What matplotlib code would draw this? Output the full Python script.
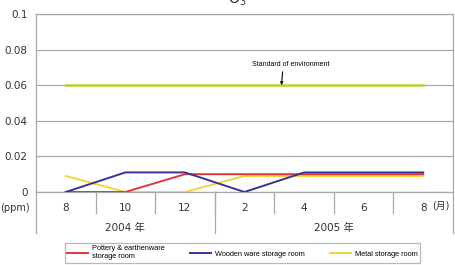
import numpy as np
import matplotlib
matplotlib.use("Agg")
import matplotlib.pyplot as plt

# データ
months = ["8", "10", "12", "2", "4", "6", "8"]
years = ["2004 年", "2005 年"]
pottery = [0, 0, 0.010, 0.010, 0.010, 0.010, 0.010]
wooden = [0, 0.011, 0.011, 0, 0.011, 0.011, 0.011]
metal = [0.009, 0, 0, 0.009, 0.009, 0.009, 0.009]
standard = [0.06, 0.06, 0.06, 0.06, 0.06, 0.06, 0.06]
yticks = [0, 0.02, 0.04, 0.06, 0.08, 0.1]
ytick_labels = ["0", "0.02", "0.04", "0.06", "0.08", "0.1"]

plt.rcParams['font.family'] = ['DejaVu Sans', 'Noto Sans CJK KR']
W, H = 455, 265
fig = plt.figure(figsize=(W/100, H/100), dpi=100)

def fx(px):
    return px/W
def fy(py):
    return 1-py/H

ax = fig.add_axes([fx(36), fy(192), fx(453)-fx(36), fy(14)-fy(192)])
x = np.arange(len(months))
grey = "#a8a8a8"

ax.plot(x, standard, color="#b8d12e", lw=1.8, zorder=3)
l1, = ax.plot(x, pottery, color="#e0383a", lw=1.4, label="Pottery & earthenware\nstorage room", zorder=4)
l2, = ax.plot(x, wooden, color="#3b3391", lw=1.4, label="Wooden ware storage room", zorder=5)
l3, = ax.plot(x, metal, color="#f2d53c", lw=1.4, label="Metal storage room", zorder=3)

ax.set_xlim(-0.5, len(months)-0.5)
ax.set_ylim(0, 0.1)
ax.set_yticks(yticks)
ax.set_yticklabels(ytick_labels, fontsize=7.5, color="#333333")
ax.yaxis.grid(True, color=grey, lw=0.9)
ax.tick_params(axis="y", length=0, pad=6)
ax.set_xticks([])
for s in ax.spines.values():
    s.set_color(grey)
    s.set_linewidth(0.9)

# 環境基準
ax.text(3.78, 0.0695, "Standard of environment", ha="center", va="bottom",
        fontsize=5, family="Liberation Sans")
ax.annotate("", xy=(3.62, 0.06), xytext=(3.64, 0.0675),
            arrowprops=dict(arrowstyle="-|>", color="black", lw=0.8,
                            mutation_scale=4, shrinkA=0, shrinkB=0))

# 下の表部分
trans = ax.get_xaxis_transform()
for i in range(1, len(months)):
    ax.plot([i-0.5, i-0.5], [0, -21/178], color=grey, lw=0.9, transform=trans, clip_on=False)
for b in [-0.5, 2.5, 6.5]:
    ax.plot([b, b], [0, -41/178], color=grey, lw=0.9, transform=trans, clip_on=False)
for i, m in enumerate(months):
    ax.text(i, -16/178, m, ha="center", va="center", fontsize=7.5, color="#333333", transform=trans)
ax.text(1, -36/178, years[0], ha="center", va="center", fontsize=7.5, color="#333333", transform=trans)
ax.text(4.5, -36/178, years[1], ha="center", va="center", fontsize=7.5, color="#333333", transform=trans)
fig.text(fx(15), fy(208), "(ppm)", ha="center", va="center", fontsize=7, color="#333333")
fig.text(fx(441), fy(205), "(月)", ha="center", va="center", fontsize=7, color="#333333")

fig.text(fx(237), fy(4), "O$_3$", ha="center", va="baseline", fontsize=10, color="#333333")

leg = fig.legend(handles=[l1, l2, l3], loc="center", bbox_to_anchor=(fx(242.5), fy(253)),
                 ncol=3, prop={"family": "Liberation Sans", "size": 5.3},
                 frameon=True, fancybox=False, edgecolor=grey, handlelength=2.8,
                 handletextpad=0.6, columnspacing=3.4, borderpad=0.3, labelspacing=0.1)
leg.get_frame().set_linewidth(0.9)

fig.savefig("out.png", dpi=100)
